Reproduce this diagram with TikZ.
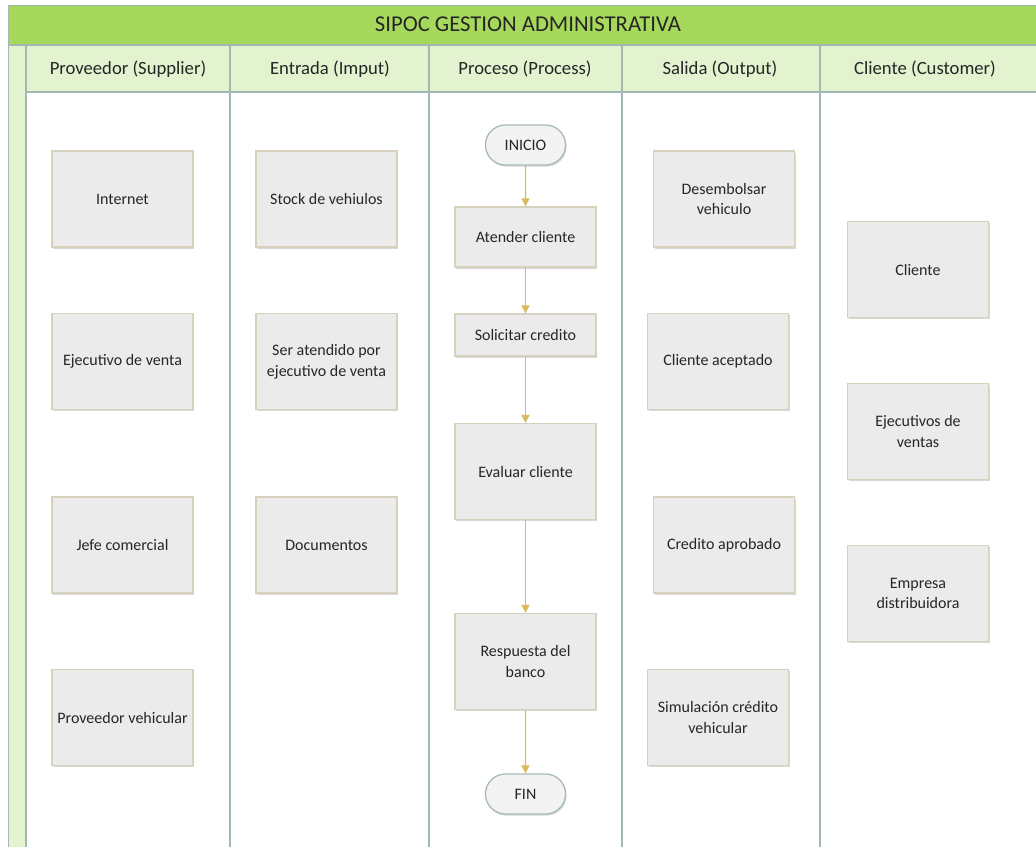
\documentclass[tikz,border=0pt]{standalone}
\usepackage{fontspec}
\setmainfont{Carlito}
\usetikzlibrary{shadows,shapes.misc,arrows.meta}
\definecolor{bandgreen}{HTML}{A6D95B}
\definecolor{headgreen}{HTML}{E3F3CF}
\definecolor{laneline}{HTML}{A3B8B3}
\definecolor{boxgrey}{HTML}{EBEBEB}
\definecolor{boxline}{HTML}{D6D2BD}
\definecolor{pillline}{HTML}{A9BCB7}
\definecolor{flowgold}{HTML}{D9BA5C}
\tikzset{
        lane/.style={draw=laneline, line width=1.2pt},
        titletext/.style={font=\fontsize{17}{19}\selectfont, text=black!85},
        headtext/.style={font=\fontsize{14}{16}\selectfont, text=black!85},
        box/.style={rectangle, draw=boxline, line width=1pt, fill=boxgrey, align=center,
          minimum width=105.75pt, minimum height=72pt, inner sep=2pt,
          font=\fontsize{12}{15.5}\selectfont, text=black!85,
          drop shadow={shadow xshift=0.8pt, shadow yshift=-1.2pt, fill=black!30, opacity=0.5}},
        lowbox/.style={box, minimum height=45pt},
        thinbox/.style={box, minimum height=31.5pt},
        pill/.style={rounded rectangle, draw=pillline, line width=1pt, fill=boxgrey!60!white,
          minimum width=66.75pt, minimum height=30pt, font=\fontsize{12}{14}\selectfont, text=black!85,
          drop shadow={shadow xshift=0.8pt, shadow yshift=-1.2pt, fill=black!30, opacity=0.5}},
        flow/.style={draw=flowgold, line width=1pt, -{Triangle[length=6pt, width=6pt]}}
          }

\begin{document}
\begin{tikzpicture}[x=0.75pt, y=-0.75pt]
        \useasboundingbox (0,0) rectangle (1036,847);
        \fill[white] (0,0) rectangle (1036,847);
        % bands
        \fill[bandgreen] (8,5) rectangle (1036,45);
        \fill[headgreen] (26,45) rectangle (1036,92);
        \fill[headgreen] (8,45) rectangle (26,847);
        \draw[laneline, line width=0.6pt] (8,847) -- (8,5) -- (1036,5);
        \draw[lane] (8,45) -- (1036,45);
        \draw[lane] (26,92) -- (1036,92);
        \foreach \lx in {26,230,429,622,820}
          \draw[lane] (\lx,45) -- (\lx,847);

        \node[titletext] (titulo) at (528,24) {SIPOC GESTION ADMINISTRATIVA};
        \node[headtext] (hsup) at (128,69) {Proveedor (Supplier)};
        \node[headtext] (hinp) at (330,69) {Entrada (Imput)};
        \node[headtext] (hpro) at (525,69) {Proceso (Process)};
        \node[headtext] (hout) at (720,69) {Salida (Output)};
        \node[headtext] (hcus) at (925,69) {Cliente (Customer)};

        % proveedor
        \node[box] (internet) at (122.5,199) {Internet};
        \node[box] (ejecutivo) at (122.5,361.5) {Ejecutivo de venta};
        \node[box] (jefe) at (122.5,545) {Jefe comercial};
        \node[box] (provveh) at (122.5,717.5) {Proveedor vehicular};

        % entrada
        \node[box] (stock) at (326.5,199) {Stock de vehiulos};
        \node[box] (atendido) at (326.5,361.5) {Ser atendido por\\ejecutivo de venta};
        \node[box] (docs) at (326.5,545) {Documentos};

        % proceso
        \node[pill] (inicio) at (525.5,145) {INICIO};
        \node[lowbox] (atender) at (525.5,237) {Atender cliente};
        \node[thinbox] (solicitar) at (525.5,335) {Solicitar credito};
        \node[box] (evaluar) at (525.5,471.5) {Evaluar cliente};
        \node[box] (respuesta) at (525.5,661.5) {Respuesta del\\banco};
        \node[pill] (fin) at (525.5,794) {FIN};
        \draw[flow] (inicio) -- (atender);
        \draw[flow] (atender) -- (solicitar);
        \draw[flow] (solicitar) -- (evaluar);
        \draw[flow] (evaluar) -- (respuesta);
        \draw[flow] (respuesta) -- (fin);

        % salida
        \node[box] (desembolsar) at (724,199) {Desembolsar\\vehiculo};
        \node[box] (aceptado) at (718,361.5) {Cliente aceptado};
        \node[box] (aprobado) at (724,545) {Credito aprobado};
        \node[box] (simulacion) at (718,717.5) {Simulación crédito\\vehicular};

        % cliente
        \node[box] (cliente) at (918,269.5) {Cliente};
        \node[box] (ejventas) at (918,431.5) {Ejecutivos de\\ventas};
        \node[box] (empresa) at (918,593.5) {Empresa\\distribuidora};
\end{tikzpicture}
\end{document}
